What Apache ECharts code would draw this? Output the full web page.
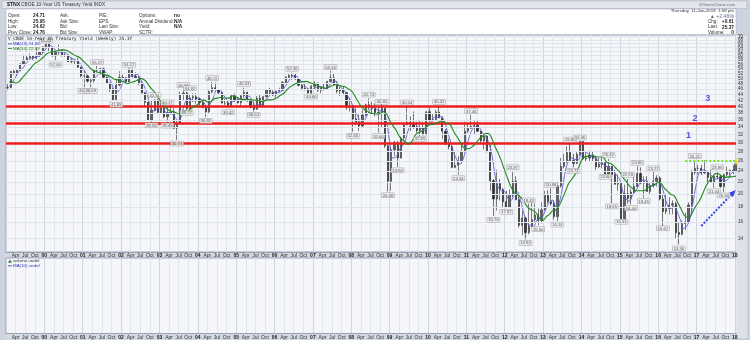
<!DOCTYPE html>
<html><head><meta charset="utf-8">
<script src="https://cdn.jsdelivr.net/npm/echarts@6/dist/echarts.min.js"></script>
<style>html,body{margin:0;padding:0;background:#cdd4df}#c{width:750px;height:340px}</style>
</head><body><div id="c"></div><script>
// ---- data: monthly bars of $TNX (yield x10), Jan 1999 .. Jan 2018 (partial, to 11-Jan) ----
const startYear = 1999;
const lastDay = 11; // data as of 11-Jan-2018
const opens = [
46.4,46.5,52.9,52.4,53.5,56.2,57.8,59.0,59.7,58.8,60.2,61.9,
64.4,66.6,64.0,60.0,62.1,62.7,60.3,60.2,57.2,58.0,57.5,54.7,
51.1,51.1,49.0,49.2,53.4,53.8,54.1,50.5,48.3,45.9,42.3,47.5,
50.5,50.3,48.8,54.0,50.9,50.4,48.0,44.6,41.4,35.9,38.9,42.1,
38.2,39.6,36.9,38.0,38.4,33.7,35.1,44.1,44.6,39.4,42.9,43.3,
42.5,41.3,39.7,38.4,45.1,46.5,45.8,44.8,41.2,41.2,40.3,43.6,
42.2,41.3,43.6,44.8,42.0,39.8,39.2,42.8,40.2,43.3,45.6,44.9,
43.9,45.2,45.5,48.5,50.5,51.2,51.4,49.9,47.4,46.3,46.1,44.6,
47.0,48.3,45.6,46.4,46.3,48.9,50.3,47.7,45.3,45.9,44.7,39.7,
40.3,36.3,35.3,34.3,37.4,40.6,39.7,39.5,38.2,38.3,39.5,29.3,
22.1,28.4,30.0,26.6,31.2,34.6,35.3,34.8,34.0,33.1,33.9,32.0,
38.4,36.0,36.1,38.3,36.6,32.9,29.7,29.1,24.7,25.1,26.0,28.0,
32.9,33.7,34.2,34.5,32.9,30.5,31.6,28.0,22.2,19.2,21.7,20.7,
18.8,18.0,19.8,22.1,19.1,15.6,16.5,14.7,15.5,16.3,16.9,16.2,
17.6,19.9,18.8,18.5,16.7,21.3,24.9,25.8,27.8,26.1,25.5,27.4,
30.3,26.4,26.6,27.2,26.5,24.8,25.3,25.6,23.4,24.9,23.3,21.6,
21.7,16.4,20.0,19.3,20.3,21.2,23.5,21.8,22.1,20.4,21.4,22.1,
22.7,19.2,17.4,17.8,18.3,18.5,14.7,14.5,15.8,16.0,18.3,23.7,
24.5,24.5,23.6,23.9,22.8,22.0,23.0,22.9,21.2,23.3,23.8,24.1,
24.0];
const highs = [
48.0,53.0,53.5,54.0,56.5,60.5,60.0,61.0,60.0,63.5,62.0,64.5,
67.9,67.0,64.5,62.5,65.6,63.0,61.5,60.5,59.0,58.5,59.0,55.0,
53.5,51.5,50.0,54.0,55.3,54.5,54.5,51.0,48.5,46.5,49.5,53.0,
51.5,50.5,54.2,54.0,52.5,51.0,49.0,45.0,42.0,42.0,42.5,42.5,
41.5,40.0,40.2,40.5,39.5,36.0,45.0,46.0,45.0,44.0,44.5,44.5,
43.0,42.0,40.0,45.5,48.7,48.5,46.0,45.0,42.5,42.0,44.0,44.5,
43.0,43.8,46.5,45.0,42.5,41.5,43.5,44.0,43.5,46.0,46.5,45.5,
45.5,46.5,49.0,51.0,52.0,52.5,52.0,50.0,48.0,48.5,46.5,47.5,
49.0,48.5,46.5,48.0,49.0,53.2,52.0,49.0,47.0,47.0,45.0,43.0,
40.5,39.5,37.5,39.0,41.0,42.7,41.5,41.0,40.0,41.0,39.5,29.5,
29.0,30.5,30.5,31.5,35.0,40.1,37.0,38.5,35.5,36.0,35.5,38.5,
39.5,38.0,39.0,40.3,37.0,33.5,31.0,29.5,28.0,27.0,29.5,35.5,
35.0,37.5,36.0,36.0,33.0,32.0,32.0,29.5,22.5,24.2,22.5,21.0,
20.5,20.7,24.0,23.0,20.0,17.5,16.7,18.5,18.8,18.5,17.8,18.7,
20.5,20.6,20.9,19.0,22.0,26.6,27.5,29.2,29.9,27.5,28.0,30.4,
30.4,28.0,28.2,28.0,26.8,26.6,26.6,25.8,26.4,25.0,24.2,23.3,
21.9,21.5,22.5,20.8,23.5,24.9,24.7,23.0,23.0,21.8,23.8,23.2,
23.0,20.0,20.0,19.5,19.0,18.8,16.0,16.2,17.2,18.7,24.2,26.2,
25.2,25.2,26.2,24.0,24.2,23.2,24.0,23.3,23.5,24.8,24.3,25.1,
25.95];
const lows = [
45.5,46.5,51.5,51.0,53.0,56.0,57.5,58.5,57.5,58.5,59.5,61.0,
64.0,62.0,59.5,57.6,60.0,59.5,59.5,57.0,56.5,56.0,54.5,50.5,
46.7,48.5,46.7,48.5,52.5,51.5,50.0,48.0,45.0,42.0,41.8,47.0,
49.5,48.0,48.5,50.5,50.0,47.5,44.5,40.0,35.8,35.5,38.5,38.0,
38.0,36.5,35.5,37.5,33.5,30.7,35.0,42.0,39.0,39.0,41.5,41.0,
40.0,39.5,36.8,38.0,44.5,45.5,44.0,41.0,40.5,39.8,40.0,41.5,
41.0,39.8,43.0,41.5,39.5,38.5,39.0,40.0,40.0,43.0,44.0,43.5,
43.0,45.0,45.5,48.0,50.0,49.5,49.5,47.0,45.5,45.5,44.5,44.3,
46.0,45.0,44.5,45.5,46.0,48.5,47.5,44.5,43.5,43.8,39.0,38.5,
32.8,34.5,33.0,34.0,37.0,39.0,38.0,37.0,32.6,34.0,28.8,20.4,
20.5,27.0,24.8,26.5,30.5,34.5,33.0,33.5,32.5,31.5,31.8,31.8,
35.5,35.5,36.0,36.5,31.0,29.5,28.5,24.5,24.5,23.3,25.5,27.8,
32.5,33.5,32.0,32.8,30.0,28.5,27.8,20.5,16.8,17.5,19.0,18.0,
17.9,17.9,19.5,19.0,15.3,14.4,13.9,14.5,15.4,16.0,15.6,15.8,
17.5,18.5,18.2,16.3,16.1,21.0,24.5,25.5,26.0,24.7,25.3,27.0,
26.2,25.8,26.0,25.8,24.2,24.5,24.5,23.0,23.2,18.6,21.5,20.5,
16.3,16.3,18.5,18.4,20.0,21.0,21.6,19.4,20.3,19.9,21.0,21.2,
19.0,15.5,17.0,17.0,17.0,14.0,13.4,14.4,15.0,15.8,17.2,23.3,
23.3,23.2,23.4,21.7,21.8,21.0,22.5,21.0,20.3,23.0,23.0,23.4,
24.0];
const closes = [
46.5,52.9,52.4,53.5,56.2,57.8,59.0,59.7,58.8,60.2,61.9,64.4,
66.6,64.0,60.0,62.1,62.7,60.3,60.2,57.2,58.0,57.5,54.7,51.1,
51.1,49.0,49.2,53.4,53.8,54.1,50.5,48.3,45.9,42.3,47.5,50.5,
50.3,48.8,54.0,50.9,50.4,48.0,44.6,41.4,35.9,38.9,42.1,38.2,
39.6,36.9,38.0,38.4,33.7,35.1,44.1,44.6,39.4,42.9,43.3,42.5,
41.3,39.7,38.4,45.1,46.5,45.8,44.8,41.2,41.2,40.3,43.6,42.2,
41.3,43.6,44.8,42.0,39.8,39.2,42.8,40.2,43.3,45.6,44.9,43.9,
45.2,45.5,48.5,50.5,51.2,51.4,49.9,47.4,46.3,46.1,44.6,47.0,
48.3,45.6,46.4,46.3,48.9,50.3,47.7,45.3,45.9,44.7,39.7,40.3,
36.3,35.3,34.3,37.4,40.6,39.7,39.5,38.2,38.3,39.5,29.3,22.1,
28.4,30.0,26.6,31.2,34.6,35.3,34.8,34.0,33.1,33.9,32.0,38.4,
36.0,36.1,38.3,36.6,32.9,29.7,29.1,24.7,25.1,26.0,28.0,32.9,
33.7,34.2,34.5,32.9,30.5,31.6,28.0,22.2,19.2,21.7,20.7,18.8,
18.0,19.8,22.1,19.1,15.6,16.5,14.7,15.5,16.3,16.9,16.2,17.6,
19.9,18.8,18.5,16.7,21.3,24.9,25.8,27.8,26.1,25.5,27.4,30.3,
26.4,26.6,27.2,26.5,24.8,25.3,25.6,23.4,24.9,23.3,21.6,21.7,
16.4,20.0,19.3,20.3,21.2,23.5,21.8,22.1,20.4,21.4,22.1,22.7,
19.2,17.4,17.8,18.3,18.5,14.7,14.5,15.8,16.0,18.3,23.7,24.5,
24.5,23.6,23.9,22.8,22.0,23.0,22.9,21.2,23.3,23.8,24.1,24.0,
25.37];
// moving averages (month-end readings)
const ma13 = [
46.8,48.6,50.6,52.9,54.0,55.8,57.7,58.8,59.2,59.6,60.3,62.2,
64.3,65.0,63.5,62.0,61.6,61.7,61.1,59.2,58.5,57.6,56.7,54.4,
52.3,50.4,49.8,50.5,52.1,53.8,52.8,51.0,48.2,45.5,45.2,46.8,
49.4,49.9,51.0,51.2,51.8,49.8,47.7,44.7,40.6,38.7,39.0,39.8,
40.0,38.2,38.2,37.8,36.7,35.7,37.6,41.3,42.7,42.3,41.9,42.9,
42.4,41.2,39.8,41.1,43.4,45.8,45.7,43.9,42.4,40.9,41.7,42.0,
42.4,42.4,43.2,43.5,42.2,40.3,40.6,40.7,42.1,43.0,44.6,44.8,
44.7,45.0,46.4,48.2,50.1,51.0,50.8,49.5,47.9,46.6,45.7,45.9,
46.6,47.0,46.8,46.1,47.2,48.5,49.0,47.8,46.3,45.3,43.4,41.5,
38.8,37.2,35.3,35.7,37.4,39.2,39.9,39.1,38.7,38.6,35.7,30.3,
26.6,26.8,28.3,29.3,30.8,33.6,34.9,34.7,34.0,33.6,33.0,34.3,
35.5,36.8,36.8,37.0,35.9,33.0,30.5,27.8,26.3,25.3,26.4,28.9,
31.6,33.6,34.1,33.9,32.6,31.6,30.0,27.3,23.1,21.0,20.5,20.4,
19.3,19.0,20.0,20.3,18.9,17.1,15.8,15.6,15.4,16.2,16.5,16.8,
17.9,18.7,19.0,18.1,18.6,20.8,24.0,26.0,26.6,26.3,26.2,27.6,
28.0,27.6,26.9,26.8,26.1,25.5,25.3,24.8,24.5,24.0,23.2,22.4,
20.3,19.2,18.9,19.8,20.5,21.5,22.3,22.3,21.5,21.3,21.4,22.0,
21.4,19.7,18.2,17.8,18.1,17.3,16.2,15.2,15.5,16.5,18.9,21.8,
23.9,24.2,24.0,23.5,22.9,22.5,22.6,22.4,22.2,22.6,23.6,24.0,
24.06];
const ma34 = [
48.6,48.6,48.3,48.7,50.2,51.6,53.1,54.8,56.3,57.2,58.4,59.8,
61.1,61.8,62.0,62.3,62.7,62.8,62.5,61.6,60.6,59.8,59.1,57.7,
56.3,54.9,53.5,53.0,52.5,52.1,51.5,51.2,50.5,49.7,49.5,49.1,
48.7,48.0,48.5,48.8,49.3,50.1,49.7,48.6,46.8,45.5,44.0,42.4,
41.1,39.7,38.9,38.5,38.2,37.8,38.0,38.8,38.8,39.5,40.2,40.7,
41.7,42.2,41.5,41.6,42.5,42.8,43.0,42.9,42.8,42.9,43.6,43.2,
42.6,42.3,42.3,42.4,42.2,42.1,42.0,41.7,42.0,42.2,42.2,42.5,
43.1,43.9,44.6,45.9,46.9,47.6,48.3,48.7,48.8,48.9,48.4,48.0,
47.6,46.9,46.5,46.3,46.7,47.2,47.6,47.4,47.1,46.9,46.1,45.4,
43.8,41.9,40.2,39.2,38.6,38.0,37.9,37.7,37.9,38.4,37.8,35.9,
34.4,33.2,31.6,30.7,30.2,29.7,30.4,31.9,32.5,32.9,33.6,34.5,
34.7,34.8,35.2,35.6,35.5,35.0,34.6,32.9,31.6,30.3,29.0,28.6,
28.7,29.2,29.9,30.9,31.6,32.3,32.3,31.0,29.1,27.6,25.9,24.1,
22.5,21.1,20.3,19.9,19.5,18.8,18.1,17.7,17.5,17.1,16.4,16.2,
16.7,17.0,17.5,17.6,18.2,19.2,20.4,21.7,22.5,23.3,24.4,26.1,
26.8,27.0,27.2,27.0,26.8,26.8,26.6,25.7,25.5,25.1,24.4,23.8,
22.8,22.1,21.3,20.9,20.5,20.5,20.5,20.6,21.1,21.3,21.6,21.9,
21.7,20.9,20.4,19.9,19.7,18.8,17.9,17.0,16.6,16.7,17.5,18.3,
19.0,20.1,21.3,22.2,22.9,23.5,23.4,23.0,22.8,22.9,22.9,23.0,
22.99];
// right-axis tick labels
const yTicks = [14,16,18,20,22,24,26,28,30,32,34,36,38,40,42,44,46,48,50,52,54,56,58,60,62,64,66,68,70];
// peak / trough annotation boxes
const annMonths = ['2000-01','2000-04','2001-01','2001-03','2001-05','2001-11','2002-03','2002-10','2002-11','2003-03','2003-03','2003-06','2003-08','2003-09','2003-10','2004-03','2004-05','2004-10','2005-03','2005-06','2006-06','2006-12','2007-06','2008-01','2008-06','2008-09','2008-10','2008-12','2009-03','2009-06','2009-10','2010-04','2010-10','2011-02','2011-09','2012-01','2012-03','2012-07','2012-08','2012-11','2013-03','2013-05','2013-09','2013-10','2013-12','2014-08','2014-09','2014-10','2015-01','2015-03','2015-04','2015-06','2015-08','2015-11','2016-02','2016-07','2016-12','2017-06','2017-07','2017-09'];
const annValues = [65.64,57.60,46.74,46.69,55.27,41.85,54.17,35.53,42.51,40.17,35.45,30.74,46.08,39.22,44.92,36.81,48.72,39.42,46.53,38.63,52.46,44.66,53.16,32.66,42.74,32.60,40.35,20.38,24.84,40.14,31.85,40.32,23.34,37.46,16.76,17.87,23.97,13.94,18.43,15.56,20.86,16.14,29.88,24.71,30.36,23.60,26.42,18.65,16.51,22.59,18.40,24.85,19.45,23.77,15.67,13.36,26.21,21.03,23.96,20.34];
const annSides = ['t','b','b','b','t','b','t','b','t','t','b','b','t','b','t','b','t','b','t','b','t','b','t','b','t','b','t','b','b','t','b','t','b','t','b','b','t','b','t','b','t','b','t','b','t','b','t','b','b','t','b','t','b','t','b','b','t','b','t','b'];
// horizontal resistance levels and zone numbers
const levels = [40, 35, 30];
const zoneText = ['1','2','3'];
const zoneMonths = ['2016-10','2016-12','2017-04'];
const zoneValues = [31.8, 36.3, 42.8];
const dottedLevel = 26.0, dottedFrom = '2016-09';
const lastMarkRange = [25.2, 26.5];
const arrowFrom = ['2017-02', 15.5], arrowTo = ['2017-12', 20.2];

// ---- build ----
const n = closes.length;
function mIdx(s){ const [y,m] = s.split('-').map(Number); return (y-startYear)*12 + (m-1); }
const lastFrac = lastDay/31;
function xMid(i){ return i === n-1 ? i + lastFrac/2 : i + 0.5; }
function xEnd(i){ return i === n-1 ? i + lastFrac : i + 1; }
const xMax = (n-1) + lastFrac;
const candles = closes.map((c,i)=>[xMid(i), opens[i], c, lows[i], highs[i]]);
const ma13Data = ma13.map((v,i)=>[xEnd(i), v]);
const ma34Data = ma34.map((v,i)=>[xEnd(i), v]);
const annData = annMonths.map((m,i)=>({
  value:[mIdx(m)+0.5, annValues[i], annValues[i].toFixed(2)],
  label:{position: annSides[i]==='t'?'top':'bottom'}
}));
const zoneData = zoneMonths.map((m,i)=>[mIdx(m)+0.5, zoneValues[i], zoneText[i]]);

const FONT = 'Liberation Sans, Arial, sans-serif';
const monthNames = {3:'Apr',6:'Jul',9:'Oct'};
function xLabel(v){
  if (Math.abs(v-Math.round(v))>1e-6) return '';
  const m = ((v%12)+12)%12;
  if (m===0) return '{y|' + String((startYear + v/12) % 100).padStart(2,'0') + '}';
  return monthNames[m] || '';
}
const xAxisCommon = {
  type:'value', min:0, max:xMax, interval:3,
  axisLine:{show:true, lineStyle:{color:'#9aa3b2', width:1}},
  axisTick:{show:false},
  axisLabel:{formatter:xLabel, fontSize:5, color:'#333', margin:1.5, fontFamily:FONT, showMinLabel:false,
    rich:{y:{fontSize:5, fontWeight:'bold', color:'#222', fontFamily:FONT}}},
  splitLine:{show:true, lineStyle:{color:['#cfd5de','#e2e6ed','#e2e6ed','#e2e6ed'], width:1}}
};

function txt(x,y,text,o){
  o = o || {};
  return {type:'text', z:100, silent:true, style:{text:text, x:x, y:y, fontSize:o.fs||5, fontFamily:o.ff||FONT,
    fill:o.c||'#222', fontWeight:o.w||'normal', align:o.a||'left', verticalAlign:'middle'}};
}
const g = [];
// panels
g.push({type:'rect', z:-10, silent:true, shape:{x:2,y:1,width:745,height:7.5}, style:{fill:'#e3e6ec', stroke:'#aeb6c4', lineWidth:0.6}});
g.push({type:'rect', z:-10, silent:true, shape:{x:6,y:9,width:730,height:26}, style:{fill:'#ffffff', stroke:'#aeb6c4', lineWidth:0.6}});
g.push({type:'rect', z:-10, silent:true, shape:{x:736,y:35,width:12,height:304}, style:{fill:'#dde1e8', stroke:'#aeb6c4', lineWidth:0.6}});
g.push({type:'rect', z:-10, silent:true, shape:{x:6,y:252,width:730,height:6}, style:{fill:'#d3d8e1'}});
g.push({type:'rect', z:-10, silent:true, shape:{x:6,y:334,width:730,height:6}, style:{fill:'#d3d8e1'}});
// header
g.push(txt(7,4.6,'$TNX',{w:'bold',fs:5.2}));
g.push(txt(21,4.6,'CBOE 10-Year US Treasury Yield INDX',{fs:4.8,c:'#333'}));
g.push(txt(735,4.6,'@StockCharts.com',{fs:4.2,c:'#667',a:'right'}));
// info panel
const rowsY = [15.7,21.3,27.0,32.7];
[['Open:','24.71'],['High:','25.95'],['Low:','24.62'],['Prev Close:','24.76']].forEach((r,i)=>{
  g.push(txt(8,rowsY[i],r[0],{fs:4.6,c:'#333'})); g.push(txt(33,rowsY[i],r[1],{fs:4.8,w:'bold'}));
});
['Ask:','Ask Size:','Bid:','Bid Size:'].forEach((s,i)=>g.push(txt(60,rowsY[i],s,{fs:4.6,c:'#333'})));
['P/E:','EPS:','Last Size:','VWAP:'].forEach((s,i)=>g.push(txt(99,rowsY[i],s,{fs:4.6,c:'#333'})));
[['Options:','no'],['Annual Dividend:','N/A'],['Yield:','N/A'],['SCTR:','']].forEach((r,i)=>{
  g.push(txt(139,rowsY[i],r[0],{fs:4.6,c:'#333'})); g.push(txt(174,rowsY[i],r[1],{fs:4.8,w:'bold'}));
});
g.push(txt(734,10.8,'Thursday  11-Jan-2018  1:58 pm',{fs:4.4,a:'right',c:'#333'}));
g.push(txt(734,16.2,'\u25B2 +2.46%',{fs:5.2,a:'right',c:'#5a6a8a'}));
[['Chg:','+0.61'],['Last:','25.37'],['Volume:','0']].forEach((r,i)=>{
  const y = [21.6,27.2,33.0][i];
  g.push(txt(708,y,r[0],{fs:4.6,c:'#333'})); g.push(txt(734,y,r[1],{fs:4.8,w:'bold',a:'right'}));
});
// chart legends
g.push(txt(8,39.3,'V-CBOE 10-Year US Treasury Yield (Weekly) 25.37',{fs:4.4,c:'#222',ff:'DejaVu Sans Mono, monospace'}));
g.push({type:'rect', z:100, silent:true, shape:{x:8,y:43.4,width:4,height:0.9}, style:{fill:'#4444cc'}});
g.push(txt(13,43.9,'MA(13) 24.06',{fs:4.4,c:'#3333bb'}));
g.push({type:'rect', z:100, silent:true, shape:{x:8,y:48.1,width:4,height:0.9}, style:{fill:'#228b22'}});
g.push(txt(13,48.6,'MA(34) 22.99',{fs:4.4,c:'#1f7a1f'}));
// volume legends
g.push({type:'polygon', z:100, silent:true, shape:{points:[[8,262.8],[10,259.6],[12,262.8]]}, style:{fill:'#2e8b2e'}});
g.push(txt(13,261.2,'volume undef',{fs:4.4,c:'#333'}));
g.push({type:'rect', z:100, silent:true, shape:{x:8,y:265.4,width:4,height:0.9}, style:{fill:'#4444cc'}});
g.push(txt(13,265.9,'MA(10) undef',{fs:4.4,c:'#3333bb'}));

const option = {
  animation:false,
  backgroundColor:'#cdd4df',
  textStyle:{fontFamily:FONT},
  graphic:g,
  grid:[
    {left:6, right:14, top:35, bottom:88, show:true, backgroundColor:'#f4f6fa', borderColor:'#9aa3b2', borderWidth:1, z:0},
    {left:6, right:14, top:258, bottom:6, show:true, backgroundColor:'#f4f6fa', borderColor:'#9aa3b2', borderWidth:1, z:0}
  ],
  xAxis:[Object.assign({gridIndex:0}, xAxisCommon), Object.assign({gridIndex:1}, xAxisCommon)],
  yAxis:[
    {gridIndex:0, type:'log', logBase:10, min:12.6, max:70.7, position:'right',
     axisLine:{show:false}, axisTick:{show:false}, axisLabel:{show:false}, splitLine:{show:false}},
    {gridIndex:1, type:'value', min:0, max:1, axisLine:{show:false}, axisTick:{show:false}, axisLabel:{show:false}, splitLine:{show:false}}
  ],
  series:[
    {type:'line', name:'grid', xAxisIndex:0, yAxisIndex:0, data:[], z:1, silent:true,
     markLine:{silent:true, symbol:['none','none'], animation:false,
       lineStyle:{color:'#e0e4eb', width:1, type:'solid'},
       label:{show:true, position:'end', distance:2, fontSize:4.6, color:'#333', fontFamily:FONT, formatter:p=>String(p.value)},
       emphasis:{disabled:true},
       data:yTicks.map(v=>({yAxis:v}))}},
    {type:'line', name:'vol', xAxisIndex:1, yAxisIndex:1, data:[], silent:true},
    {type:'candlestick', name:'TNX', xAxisIndex:0, yAxisIndex:0, data:candles, z:3, barWidth:1.7,
     itemStyle:{color:'#666', color0:'#333', borderColor:'#2a2a2a', borderColor0:'#1a1a1a', borderWidth:0.6}},
    {type:'line', name:'MA(13)', xAxisIndex:0, yAxisIndex:0, data:ma13Data, z:4, smooth:0.4, showSymbol:false,
     lineStyle:{color:'#5a5ad8', width:0.9}},
    {type:'line', name:'MA(34)', xAxisIndex:0, yAxisIndex:0, data:ma34Data, z:5, smooth:0.4, showSymbol:false,
     lineStyle:{color:'#1e8a1e', width:1.1}},
    {type:'line', name:'levels', xAxisIndex:0, yAxisIndex:0, data:[], z:6, silent:true,
     markLine:{silent:true, symbol:['none','none'], label:{show:false}, emphasis:{disabled:true},
       lineStyle:{color:'#ee1c1c', width:2.6, type:'solid'},
       data:levels.map(v=>({yAxis:v})).concat([
         [{coord:[mIdx(dottedFrom)+0.5, dottedLevel], lineStyle:{color:'#77dd33', width:2, type:[2,2]}}, {coord:[xMax, dottedLevel]}],
         [{coord:[xMax-0.15, lastMarkRange[0]], lineStyle:{color:'#e8d21a', width:1.6, type:'solid'}}, {coord:[xMax-0.15, lastMarkRange[1]]}],
         [{coord:[mIdx(arrowFrom[0])+0.5, arrowFrom[1]], symbol:'none', lineStyle:{color:'#3346e0', width:2, type:[2,1.5]}},
          {coord:[mIdx(arrowTo[0])+0.5, arrowTo[1]], symbol:'triangle', symbolSize:[6,7]}]
       ])}},
    {type:'scatter', name:'ann', xAxisIndex:0, yAxisIndex:0, data:annData, z:8, symbolSize:0, silent:true,
     label:{show:true, formatter:p=>p.value[2], fontSize:4.2, color:'#333', fontFamily:FONT, distance:1.5,
       backgroundColor:'#eeeeee', borderColor:'#999', borderWidth:0.5, padding:[0.5,1,0,1]}},
    {type:'scatter', name:'zones', xAxisIndex:0, yAxisIndex:0, data:zoneData, z:8, symbolSize:0, silent:true,
     label:{show:true, position:'inside', formatter:p=>p.value[2], fontSize:9, fontWeight:'bold', color:'#2a2ad8', fontFamily:FONT}}
  ]
};
const chart = echarts.init(document.getElementById('c'), null, {width:750, height:340});
chart.setOption(option);
</script></body></html>
